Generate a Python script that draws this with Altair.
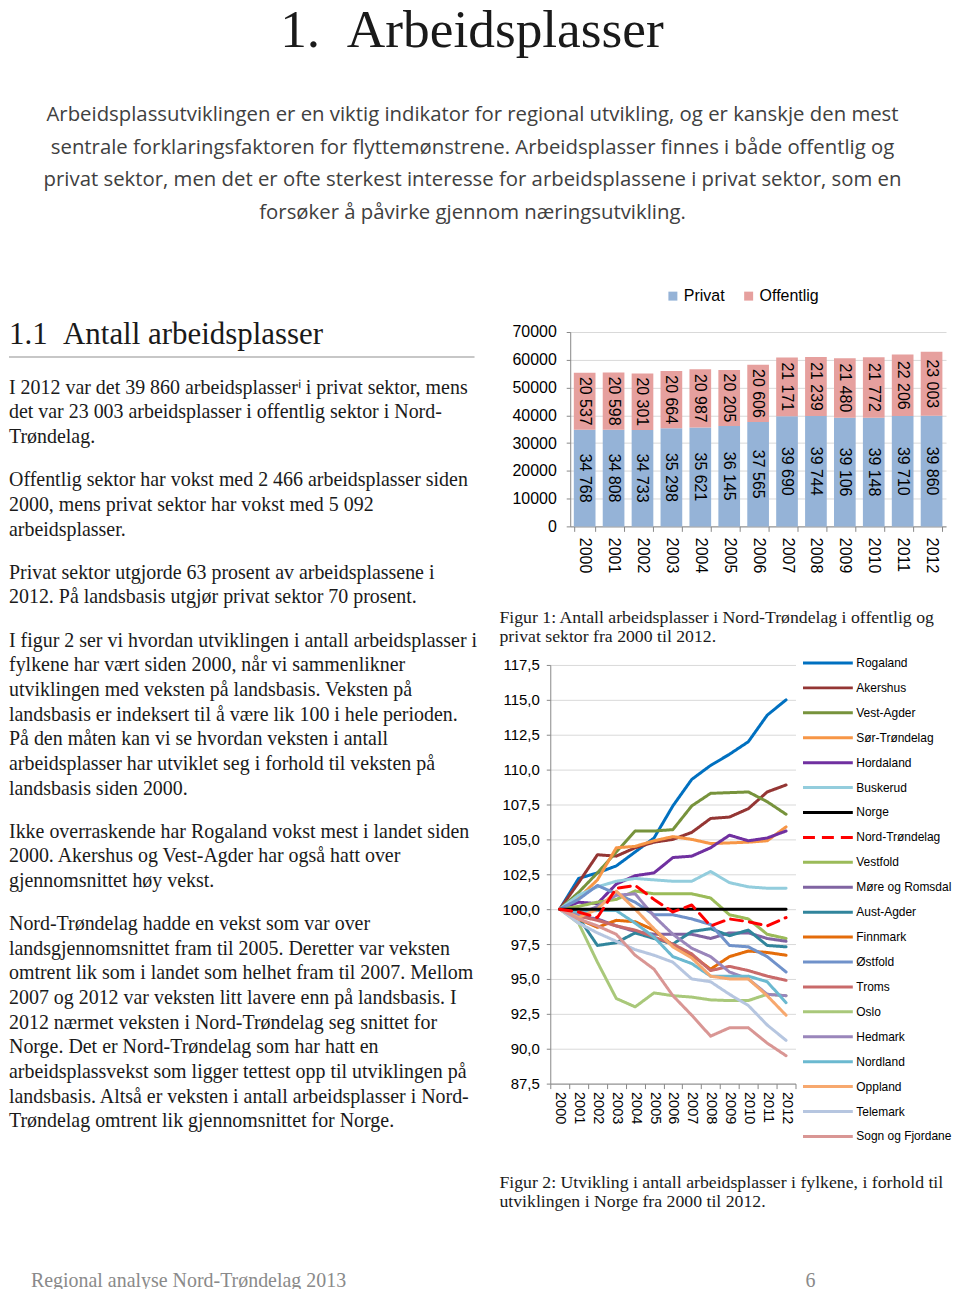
import altair as alt
import pandas as pd

# ---------------- data ----------------
years = [str(y) for y in range(2000, 2013)]
privat = [34768, 34808, 34733, 35298, 35621, 36145, 37565, 39690, 39744, 39106, 39148, 39710, 39860]
offentlig = [20537, 20598, 20301, 20664, 20987, 20205, 20606, 21171, 21239, 21480, 21772, 22206, 23003]
bar_ticks = [0, 10000, 20000, 30000, 40000, 50000, 60000, 70000]
sektorer = ["Privat", "Offentlig"]

fylker = ["Rogaland", "Akershus", "Vest-Agder", "Sør-Trøndelag", "Hordaland", "Buskerud",
          "Norge", "Nord-Trøndelag", "Vestfold", "Møre og Romsdal", "Aust-Agder", "Finnmark",
          "Østfold", "Troms", "Oslo", "Hedmark", "Nordland", "Oppland", "Telemark",
          "Sogn og Fjordane"]
rogaland = [100, 102.2, 102.6, 103.1, 104.1, 105.1, 107.4, 109.3, 110.3, 111.1, 112.0, 113.9, 115.0]
akershus = [100, 101.9, 103.9, 103.8, 104.4, 104.8, 105.0, 105.5, 106.5, 106.6, 107.2, 108.4, 108.9]
vest_agder = [100, 101.2, 102.6, 104.1, 105.6, 105.6, 105.7, 107.4, 108.3, 108.35, 108.4, 107.7, 106.8]
sor_trondelag = [100, 100.8, 102.1, 104.4, 104.5, 104.9, 105.2, 105.0, 104.7, 104.75, 104.8, 104.9, 105.9]
hordaland = [100, 100.5, 100.4, 101.8, 102.4, 102.6, 103.7, 103.8, 104.4, 105.3, 104.9, 105.1, 105.6]
buskerud = [100, 101.0, 101.6, 102.0, 102.2, 102.1, 102.0, 102.0, 102.7, 101.9, 101.6, 101.5, 101.5]
norge = [100, 100, 100, 100, 100, 100, 100, 100, 100, 100, 100, 100, 100]
nord_trondelag = [100, 99.8, 99.4, 101.5, 101.7, 100.7, 99.8, 100.3, 98.8, 99.3, 99.1, 98.8, 99.4]
vestfold = [100, 100.2, 100.5, 100.7, 101.3, 101.1, 101.1, 101.1, 100.8, 99.6, 99.3, 98.2, 97.9]
more_romsdal = [100, 99.5, 99.3, 98.8, 98.4, 98.2, 98.2, 98.2, 97.9, 98.3, 98.3, 97.9, 97.7]
aust_agder = [100, 99.4, 97.4, 97.6, 98.3, 97.9, 97.5, 98.4, 98.6, 98.1, 98.5, 97.4, 97.3]
finnmark = [100, 99.3, 98.7, 99.2, 99.1, 98.5, 97.4, 96.7, 95.7, 96.6, 97.0, 96.9, 96.7]
ostfold = [100, 100.7, 101.7, 101.1, 100.5, 99.6, 99.6, 99.3, 98.9, 97.4, 97.3, 96.6, 95.5]
troms = [100, 99.5, 99.2, 98.8, 98.5, 98.0, 97.5, 96.8, 95.6, 95.9, 95.6, 95.2, 94.9]
oslo = [100, 99.0, 96.2, 93.6, 93.0, 94.0, 93.8, 93.7, 93.5, 93.45, 93.45, 93.9, 93.8]
hedmark = [100, 99.6, 100.2, 101.0, 101.1, 99.5, 98.2, 97.2, 96.6, 95.5, 95.0, 93.9, 93.8]
nordland = [100, 99.8, 99.9, 99.9, 99.0, 98.0, 96.6, 96.1, 95.2, 95.2, 95.2, 94.8, 93.3]
oppland = [100, 99.4, 100.0, 101.3, 100.0, 98.6, 97.3, 96.5, 95.2, 95.0, 95.0, 93.8, 92.4]
telemark = [100, 99.0, 98.3, 97.7, 97.1, 96.7, 96.2, 95.0, 94.8, 93.9, 93.1, 91.7, 90.6]
sogn_fjordane = [100, 99.3, 98.8, 98.2, 96.7, 95.7, 93.8, 92.4, 90.9, 91.5, 91.5, 90.4, 89.5]
index_ticks = [87.5, 90.0, 92.5, 95.0, 97.5, 100.0, 102.5, 105.0, 107.5, 110.0, 112.5, 115.0, 117.5]

title_text = "1.\u00a0\u00a0Arbeidsplasser"
intro_lines = [
    "Arbeidsplassutviklingen er en viktig indikator for regional utvikling, og er kanskje den mest",
    "sentrale forklaringsfaktoren for flyttemønstrene. Arbeidsplasser finnes i både offentlig og",
    "privat sektor, men det er ofte sterkest interesse for arbeidsplassene i privat sektor, som en",
    "forsøker å påvirke gjennom næringsutvikling.",
]
heading_text = "1.1\u00a0\u00a0Antall arbeidsplasser"
paragraphs = [
    ["I 2012 var det 39 860 arbeidsplasserⁱ i privat sektor, mens",
     "det var 23 003 arbeidsplasser i offentlig sektor i Nord-",
     "Trøndelag."],
    ["Offentlig sektor har vokst med 2 466 arbeidsplasser siden",
     "2000, mens privat sektor har vokst med 5 092",
     "arbeidsplasser."],
    ["Privat sektor utgjorde 63 prosent av arbeidsplassene i",
     "2012. På landsbasis utgjør privat sektor 70 prosent."],
    ["I figur 2 ser vi hvordan utviklingen i antall arbeidsplasser i",
     "fylkene har vært siden 2000, når vi sammenlikner",
     "utviklingen med veksten på landsbasis. Veksten på",
     "landsbasis er indeksert til å være lik 100 i hele perioden.",
     "På den måten kan vi se hvordan veksten i antall",
     "arbeidsplasser har utviklet seg i forhold til veksten på",
     "landsbasis siden 2000."],
    ["Ikke overraskende har Rogaland vokst mest i landet siden",
     "2000. Akershus og Vest-Agder har også hatt over",
     "gjennomsnittet høy vekst."],
    ["Nord-Trøndelag hadde en vekst som var over",
     "landsgjennomsnittet fram til 2005. Deretter var veksten",
     "omtrent lik som i landet som helhet fram til 2007. Mellom",
     "2007 og 2012 var veksten litt lavere enn på landsbasis. I",
     "2012 nærmet veksten i Nord-Trøndelag seg snittet for",
     "Norge. Det er Nord-Trøndelag som har hatt en",
     "arbeidsplassvekst som ligger tettest opp til utviklingen på",
     "landsbasis. Altså er veksten i antall arbeidsplasser i Nord-",
     "Trøndelag omtrent lik gjennomsnittet for Norge."],
]
caption1 = ["Figur 1: Antall arbeidsplasser i Nord-Trøndelag i offentlig og",
            "privat sektor fra 2000 til 2012."]
caption2 = ["Figur 2: Utvikling i antall arbeidsplasser i fylkene, i forhold til",
            "utviklingen i Norge fra 2000 til 2012."]
footer_left = "Regional analyse Nord-Trøndelag 2013"
footer_right = "6"

# ---------------- styles / layout constants ----------------
SERIF = "Liberation Serif"
SANS = "Liberation Sans"
PARA = "Open Sans"
AX = "#888888"
GRID = "#D9D9D9"
TXT = "#1a1a1a"
bar_colors = ["#95B3D7", "#E6A09E"]
line_colors = ["#0070C0", "#943634", "#77933C", "#F79646", "#7030A0", "#93CDDD",
               "#000000", "#FF0000", "#9BBB59", "#8064A2", "#31859C", "#E46C0A",
               "#7092CA", "#C96A6A", "#A9C87A", "#9A86BB", "#6BB9D0", "#F7A86E",
               "#B6C6E0", "#D99694"]
line_widths = [3, 3, 3, 3, 3, 3, 6, 5, 3, 3, 3, 3, 3, 3, 3, 3, 3, 3, 3, 3]
line_dashes = [[1, 0]] * 7 + [[12, 7]] + [[1, 0]] * 12

ANCHOR = 60          # invisible element above the page top, cancelled by negative padding
ROW1_TOP = 331       # page y of bar plot top (= origin of row 1)
ROW2_TOP = 583       # page y of origin of row 2
ROW_SPLIT = 590      # text lines above this page y go into row 1
L1_W, L1_H = 504, 252
L2_W, L2_H = 492, 688
CAP_X = -51


def fmt_space(v):
    return f"{v:,}".replace(",", " ")


def indep(c):
    return c.resolve_scale(color="independent", strokeDash="independent",
                           strokeWidth="independent").resolve_legend(
        color="independent", strokeDash="independent")


def text_block(df, size, font=SERIF, color=TXT, x=0):
    return alt.Chart(df).mark_text(
        font=font, fontSize=size, color=color, align="left", baseline="alphabetic"
    ).encode(x=alt.value(x), y=alt.Y("y:Q", scale=None, axis=None), text="t:N")


# ---------------- header ----------------
intro_df = pd.DataFrame({"t": intro_lines, "y": [111 + 33 * i for i in range(len(intro_lines))]})
head_anchor = alt.Chart(pd.DataFrame({"a": [0]})).mark_rule(opacity=0).encode(
    x=alt.value(0), x2=alt.value(1), y=alt.value(-ANCHOR))
head_title = alt.Chart(pd.DataFrame({"t": [title_text]})).mark_text(
    font=SERIF, fontSize=53.5, color=TXT, align="left", baseline="alphabetic"
).encode(x=alt.value(272), y=alt.value(37), text="t:N")
head_para = alt.Chart(intro_df).mark_text(
    font=PARA, fontSize=20.4, color="#404040", align="center", baseline="alphabetic"
).encode(x=alt.value(465), y=alt.Y("y:Q", scale=None, axis=None), text="t:N")
A = alt.layer(head_anchor, head_title, head_para).properties(width=944, height=279)

# ---------------- left column text (page baselines, split into two rows) ----------------
LH, GAP, Y0 = 24.75, 18.5, 393.0
rows1, rows2 = [], []
yy = Y0
for p in paragraphs:
    for line in p:
        if yy < ROW_SPLIT:
            rows1.append({"t": line, "y": yy - ROW1_TOP})
        else:
            rows2.append({"t": line, "y": yy - ROW2_TOP})
        yy += LH
    yy += GAP
left_head = alt.Chart(pd.DataFrame({"t": [heading_text]})).mark_text(
    font=SERIF, fontSize=31, color=TXT, align="left", baseline="alphabetic"
).encode(x=alt.value(0), y=alt.value(343 - ROW1_TOP), text="t:N")
left_rule = alt.Chart(pd.DataFrame({"a": [0]})).mark_rule(color="#B4B4B4", strokeWidth=1.5).encode(
    x=alt.value(0), x2=alt.value(467), y=alt.value(356 - ROW1_TOP))
L1 = alt.layer(left_head, left_rule, text_block(pd.DataFrame(rows1), 20)).properties(width=L1_W, height=L1_H)
L2 = text_block(pd.DataFrame(rows2), 20).properties(width=L2_W, height=L2_H)

# ---------------- bar chart ----------------
brows = []
for i, y in enumerate(years):
    p, o = privat[i], offentlig[i]
    brows.append({"year": y, "sektor": sektorer[0], "start": 0, "end": p, "mid": p / 2, "label": fmt_space(p)})
    brows.append({"year": y, "sektor": sektorer[1], "start": p, "end": p + o, "mid": p + o / 2, "label": fmt_space(o)})
bar_df = pd.DataFrame(brows)

xscale_b = alt.Scale(domain=years, paddingInner=0.25, paddingOuter=0.125)
yscale_b = alt.Scale(domain=[0, 70000], nice=False)
xaxis_b = alt.Axis(title=None, labelAngle=90, labelAlign="left", labelBaseline="middle",
                   labelFont=SANS, labelFontSize=16, labelColor="#000", labelPadding=6,
                   tickSize=5, tickBand="extent", tickColor=AX, domainColor=AX, grid=False)
yaxis_b = alt.Axis(title=None, values=bar_ticks, format="d", labelFont=SANS, labelFontSize=16,
                   labelColor="#000", labelPadding=10, tickSize=4, tickColor=AX, tickCount=8,
                   labelOverlap=False, domainColor=AX, gridColor=GRID, grid=True)
bars = alt.Chart(bar_df).mark_bar().encode(
    x=alt.X("year:O", scale=xscale_b, axis=xaxis_b),
    y=alt.Y("start:Q", scale=yscale_b, axis=yaxis_b),
    y2="end:Q",
    color=alt.Color("sektor:N", scale=alt.Scale(domain=sektorer, range=bar_colors),
                    legend=alt.Legend(title=None, orient="none", legendX=95, legendY=-44,
                                      direction="horizontal", symbolType="square", symbolSize=81,
                                      symbolStrokeWidth=0, labelFont=SANS, labelFontSize=16,
                                      labelColor="#000", labelOffset=3, columnPadding=16, padding=0)),
)
bar_labels = alt.Chart(bar_df).mark_text(angle=90, font=SANS, fontSize=16, color="#000").encode(
    x=alt.X("year:O", scale=xscale_b, axis=xaxis_b),
    y=alt.Y("mid:Q", scale=yscale_b, axis=yaxis_b),
    text="label:N",
)
bar_chart = alt.layer(bars, bar_labels).properties(width=377, height=195)


# ---------------- captions ----------------
def caption(lines, y0, h):
    df = pd.DataFrame({"t": lines, "y": [y0 + 18.7 * i for i in range(len(lines))]})
    return text_block(df, 17.8, x=CAP_X).properties(width=390, height=h)


cap1 = caption(caption1, 40, 67)
cap2 = caption(caption2, 39, 65)

# ---------------- line chart ----------------
series = [rogaland, akershus, vest_agder, sor_trondelag, hordaland, buskerud, norge, nord_trondelag,
          vestfold, more_romsdal, aust_agder, finnmark, ostfold, troms, oslo, hedmark, nordland,
          oppland, telemark, sogn_fjordane]
draw_order = [f for f in fylker if f not in ("Norge", "Nord-Trøndelag")] + ["Norge", "Nord-Trøndelag"]
lrows = []
for f in draw_order:
    vals = series[fylker.index(f)]
    for y, v in zip(years, vals):
        lrows.append({"fylke": f, "year": y, "value": v})
line_df = pd.DataFrame(lrows)

line_legend = alt.Legend(title=None, orient="none", legendX=252, legendY=-14.5, direction="vertical",
                         symbolType="stroke", symbolSize=2500, symbolStrokeWidth=4, clipHeight=25,
                         rowPadding=0, labelFont=SANS, labelFontSize=12, labelColor="#000",
                         labelOffset=2, padding=0)
lines = alt.Chart(line_df).mark_line(strokeJoin="round", strokeCap="round").encode(
    x=alt.X("year:O", bandPosition=0.5,
            scale=alt.Scale(type="band", domain=years, paddingInner=0, paddingOuter=0),
            axis=alt.Axis(title=None, labelAngle=90, labelAlign="left", labelBaseline="middle",
                          labelFont=SANS, labelFontSize=14.5, labelColor="#000", labelPadding=3,
                          tickSize=5, tickBand="extent", tickColor=AX, domainColor=AX, grid=False)),
    y=alt.Y("value:Q", scale=alt.Scale(domain=[87.5, 117.5], nice=False, zero=False),
            axis=alt.Axis(title=None, values=index_ticks, labelOverlap=False,
                          labelExpr="replace(format(datum.value, '.1f'), '.', ',')",
                          labelFont=SANS, labelFontSize=15, labelColor="#000", labelPadding=7,
                          tickSize=4, tickColor=AX, domainColor=AX, gridColor=GRID, grid=True)),
    color=alt.Color("fylke:N", scale=alt.Scale(domain=fylker, range=line_colors), legend=line_legend),
    strokeDash=alt.StrokeDash("fylke:N", scale=alt.Scale(domain=fylker, range=line_dashes), legend=line_legend),
    strokeWidth=alt.StrokeWidth("fylke:N", scale=alt.Scale(domain=fylker, range=line_widths), legend=None),
    detail="fylke:N",
)
line_chart = lines.properties(width=246, height=420)

row1 = indep(alt.hconcat(L1, bar_chart, spacing=0))
R2 = indep(alt.vconcat(cap1, line_chart, cap2, spacing=0))
row2 = indep(alt.hconcat(L2, R2, spacing=0))

# ---------------- footer ----------------
foot_df = pd.DataFrame({"t": [footer_left, footer_right], "x": [22, 799]})
C = alt.Chart(foot_df).mark_text(
    font=SERIF, fontSize=20, color="#8a8a8a", align="left", baseline="alphabetic", clip=True
).encode(x=alt.X("x:Q", scale=None, axis=None), y=alt.value(18), text="t:N").properties(width=944, height=20)

chart = indep(alt.vconcat(A, row1, row2, C, spacing=0,
                          padding={"top": -ANCHOR, "left": 0, "right": 0, "bottom": 0})
              ).configure_view(strokeWidth=0)
chart.save("out.html", embed_options={"renderer": "svg", "actions": False})
